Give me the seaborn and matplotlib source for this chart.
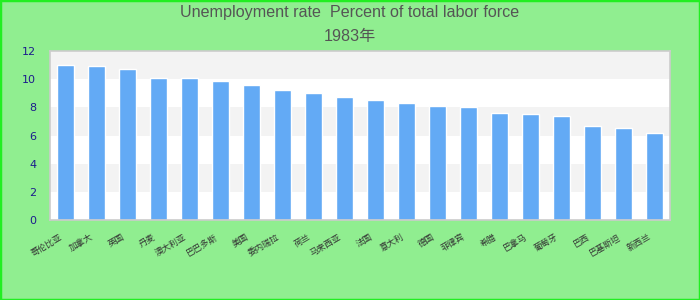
import matplotlib
matplotlib.use("Agg")
import matplotlib.pyplot as plt
import matplotlib.patches as mpatches
import matplotlib.transforms as mtransforms
import seaborn as sns
import pandas as pd

# 1983 unemployment rate (% of total labor force), sorted high to low
countries = ["哥伦比亚", "加拿大", "英国", "丹麦", "澳大利亚", "巴巴多斯", "美国", "委内瑞拉",
             "荷兰", "马来西亚", "法国", "意大利", "德国", "菲律宾", "希腊", "巴拿马",
             "葡萄牙", "巴西", "巴基斯坦", "新西兰"]
rates = [11.0, 10.9, 10.7, 10.1, 10.1, 9.9, 9.6, 9.2, 9.0, 8.7,
         8.5, 8.3, 8.1, 8.0, 7.6, 7.5, 7.4, 6.7, 6.5, 6.2]
yticks = [0, 2, 4, 6, 8, 10, 12]

df = pd.DataFrame({"country": countries, "rate": rates})

sns.set_style("white")
plt.rcParams["font.family"] = ["Liberation Sans", "Noto Sans CJK SC", "DejaVu Sans"]

bg = "#90ee90"
fig = plt.figure(figsize=(7, 3), dpi=100, facecolor=bg)
ax = fig.add_axes([50 / 700, 80 / 300, 620 / 700, 169 / 300])
ax.set_facecolor("white")

# alternating split-area bands
for i in range(len(yticks) - 1):
    if i % 2 == 1:
        ax.axhspan(yticks[i], yticks[i + 1], color="#f3f3f3", zorder=0, lw=0)

sns.barplot(data=df, x="country", y="rate", color="#63aaf5", saturation=1,
            width=0.55, ax=ax, zorder=2)

ax.set_ylim(0, 12)
ax.set_xlim(-0.5, len(countries) - 0.5)
ax.set_yticks(yticks)
ax.set_yticklabels([str(t) for t in yticks], color="#1c1c8c", fontsize=8,
                   family=["DejaVu Sans"])
ax.tick_params(axis="y", length=0, pad=10)
ax.tick_params(axis="x", length=0, pad=9)
ax.set_xlabel("")
ax.set_ylabel("")

offset = mtransforms.ScaledTranslation(-6 / 100, 0, fig.dpi_scale_trans)
for lab in ax.get_xticklabels():
    lab.set_rotation(30)
    lab.set_ha("right")
    lab.set_va("top")
    lab.set_rotation_mode("anchor")
    lab.set_fontsize(6.2)
    lab.set_color("#333333")
    lab.set_family(["Noto Sans CJK SC"])
    lab.set_transform(lab.get_transform() + offset)

for s in ax.spines.values():
    s.set_color("#cccccc")
    s.set_linewidth(1.2)

fig.text(0.5, 1 - 12 / 300, "Unemployment rate  Percent of total labor force",
         ha="center", va="center", fontsize=11.6, color="#555555")
fig.text(0.5, 1 - 37 / 300, "1983年", ha="center", va="center", fontsize=11.6,
         color="#555555")

fig.patches.append(mpatches.Rectangle((0, 0), 1, 1, transform=fig.transFigure,
                                      fill=False, edgecolor="#22ee22", lw=2.5))

fig.savefig("out.png", dpi=100, facecolor=bg)
